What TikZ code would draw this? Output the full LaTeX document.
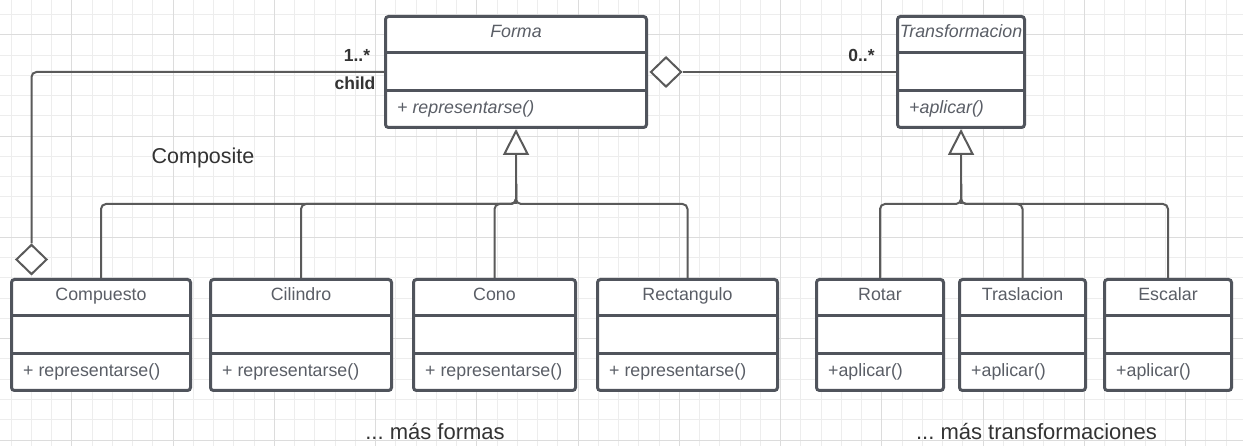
\documentclass[tikz,border=0pt]{standalone}
\usepackage{fontspec}
\setmainfont{Liberation Sans}
\usetikzlibrary{arrows.meta,shapes.geometric,calc}
\definecolor{boxc}{HTML}{50545C}
\definecolor{txtc}{HTML}{5A5E66}
\definecolor{connc}{HTML}{5A5A5A}
\definecolor{darkt}{HTML}{333333}
\definecolor{gridminor}{HTML}{EDEDED}
\definecolor{gridmajor}{HTML}{DCDCDC}
\tikzset{
  cls/.style={draw=boxc, line width=3pt, fill=white, rounded corners=3pt, inner sep=0pt},
  sepline/.style={draw=boxc, line width=3pt},
  titletext/.style={anchor=base, inner sep=0pt, text=txtc, font=\fontsize{17.8}{21}\selectfont},
  methtext/.style={anchor=base west, inner sep=0pt, text=txtc, font=\fontsize{17.8}{21}\selectfont},
  conn/.style={draw=connc, line width=2pt},
  diam/.style={diamond, draw=connc, line width=2pt, fill=white, minimum width=31pt, minimum height=30pt, inner sep=0pt},
  mult/.style={anchor=base, inner sep=0pt, text=darkt, font=\bfseries\fontsize{17.5}{21}\selectfont},
  bigtext/.style={anchor=base, inner sep=0pt, text=darkt, font=\fontsize{21.5}{25}\selectfont},
  notetext/.style={anchor=base, inner sep=0pt, text=darkt, font=\fontsize{22}{26}\selectfont},
  gmin/.style={draw=gridminor, line width=1pt},
  gmaj/.style={draw=gridmajor, line width=1pt},
  inh/.style={conn, -{Triangle[width=26pt, length=26pt, fill=white]}}
}
\newcommand\umlclass[7]{%
  \node[cls, minimum width={(#4-#2-3)*1pt}, minimum height={(#5-#3-3)*1pt}] (#1) at ({(#2+#4)/2},{(#3+#5)/2}) {};
  \draw[sepline] ({#2+1.5},{#3+38}) -- ({#4-1.5},{#3+38});
  \draw[sepline] ({#2+1.5},{#3+76}) -- ({#4-1.5},{#3+76});
  \node[titletext] (#1-title) at ({(#2+#4)/2},{#3+23}) {#6};
  \node[methtext] (#1-meth) at ({#2+13},{#3+99}) {#7};
}
\begin{document}
\frenchspacing
\begin{tikzpicture}[x=1pt,y=-1pt]
\useasboundingbox (0,0) rectangle (1243,446);
\fill[white] (0,0) rectangle (1243,446);
% grid
\foreach \i in {0,...,61} \draw[gmin] ({11+20.25*\i},0) -- ({11+20.25*\i},446);
\foreach \i in {-1,...,20} \draw[gmin] (0,{35+20.25*\i}) -- (1243,{35+20.25*\i});
\foreach \i in {0,...,11} \draw[gmaj] ({71.75+101.25*\i},0) -- ({71.75+101.25*\i},446);
\foreach \i in {0,...,4} \draw[gmaj] (0,{35+101.25*\i}) -- (1243,{35+101.25*\i});

% classes
\umlclass{forma}{384}{15}{648}{129}{\textit{Forma}}{\textit{+ representarse()}}
\umlclass{transf}{896}{15}{1026}{129}{\textit{Transformacion}}{\textit{+aplicar()}}
\umlclass{comp}{10}{278}{192}{392}{Compuesto}{+ representarse()}
\umlclass{cil}{209}{278}{393}{392}{Cilindro}{+ representarse()}
\umlclass{cono}{412}{278}{577}{392}{Cono}{+ representarse()}
\umlclass{rect}{596}{278}{779}{392}{Rectangulo}{+ representarse()}
\umlclass{rotar}{815}{278}{945}{392}{Rotar}{+aplicar()}
\umlclass{tras}{958}{278}{1087}{392}{Traslacion}{+aplicar()}
\umlclass{esc}{1103}{278}{1233}{392}{Escalar}{+aplicar()}

% inheritance Forma
\coordinate (jf) at (forma.south |- 0,204);
\foreach \c in {comp,cil,cono,rect}
  \draw[conn, rounded corners=5pt] (\c.north) |- (jf) -- ++(0,-20);
\draw[inh] (jf) -- (forma.south);

% inheritance Transformacion
\coordinate (jt) at (transf.south |- 0,204);
\foreach \c in {rotar,tras,esc}
  \draw[conn, rounded corners=5pt] (\c.north) |- (jt) -- ++(0,-20);
\draw[inh] (jt) -- (transf.south);

% aggregations
\node[diam] (dcomp) at (31.5,259.5) {};
\draw[conn, rounded corners=5pt] (forma.west) -| (dcomp.north);
\node[diam] (dforma) at (666,72) {};
\draw[conn] (dforma.east) -- (transf.west);

% labels
\node[mult] (m1) at (357,61.5) {1..*};
\node[mult] (mchild) at (355,90) {child};
\node[mult] (m0) at (861.5,61.5) {0..*};
\node[bigtext] (composite) at (203,164) {Composite};
\node[notetext] (mas1) at (435,439) {... más formas};
\node[notetext] (mas2) at (1036.5,439) {... más transformaciones};
\end{tikzpicture}
\end{document}
